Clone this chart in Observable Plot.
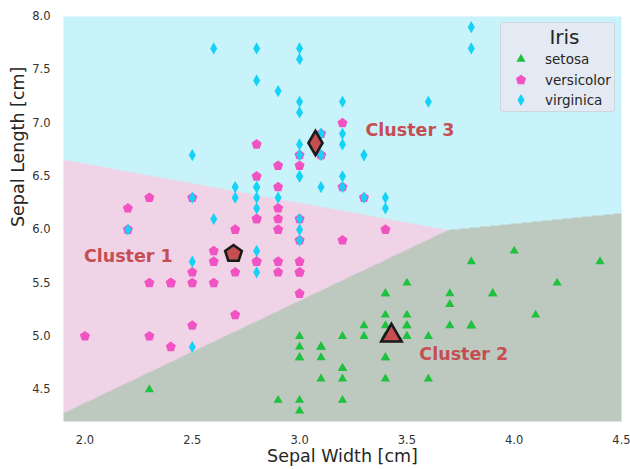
<!DOCTYPE html>
<html>
<head>
<meta charset="utf-8">
<script src="https://cdn.jsdelivr.net/npm/d3@7"></script>
<script src="https://cdn.jsdelivr.net/npm/@observablehq/plot@0.6"></script>
<style>
  html, body { margin: 0; padding: 0; background: #fff; }
  #wrap { position: relative; width: 630px; height: 469px; font-family: "DejaVu Sans", sans-serif; }
  #legend { position: absolute; left: 500px; top: 22px; width: 113px; height: 88px;
    background: #e3eaf3; border: 1px solid #d0d6de; border-radius: 3px; color: #262626; }
  #legend .title { position: absolute; left: 0; width: 100%; top: 2px; text-align: center; font-size: 20px; padding-left: 14px; box-sizing: border-box; }
  #legend .row { position: absolute; left: 10px; height: 18px; display: flex; align-items: center; font-size: 13.5px; }
  #legend .row svg { width: 20px; height: 18px; margin-right: 14px; }
</style>
</head>
<body>
<div id="wrap"></div>
<script>
// ---- data (Iris: sepal width / sepal length) ----
const species = ["setosa", "versicolor", "virginica"];
const speciesColors = ["#1fc13f", "#f153c3", "#14d3f6"];

const setosaWidth  = [3.5,3.0,3.2,3.1,3.6,3.9,3.4,3.4,2.9,3.1,3.7,3.4,3.0,3.0,4.0,4.4,3.9,3.5,3.8,3.8,3.4,3.7,3.6,3.3,3.4,3.0,3.4,3.5,3.4,3.2,3.1,3.4,4.1,4.2,3.1,3.2,3.5,3.1,3.0,3.4,3.5,2.3,3.2,3.5,3.8,3.0,3.8,3.2,3.7,3.3];
const setosaLength = [5.1,4.9,4.7,4.6,5.0,5.4,4.6,5.0,4.4,4.9,5.4,4.8,4.8,4.3,5.8,5.7,5.4,5.1,5.7,5.1,5.4,5.1,4.6,5.1,4.8,5.0,5.0,5.2,5.2,4.7,4.8,5.4,5.2,5.5,4.9,5.0,5.5,4.9,4.4,5.1,5.0,4.5,4.4,5.0,5.1,4.8,5.1,4.6,5.3,5.0];

const versicolorWidth  = [3.2,3.2,3.1,2.3,2.8,2.8,3.3,2.4,2.9,2.7,2.0,3.0,2.2,2.9,2.9,3.1,3.0,2.7,2.2,2.5,3.2,2.8,2.5,2.8,2.9,3.0,2.8,3.0,2.9,2.6,2.4,2.4,2.7,2.7,3.0,3.4,3.1,2.3,3.0,2.5,2.6,3.0,2.6,2.3,2.7,3.0,2.9,2.9,2.5,2.8];
const versicolorLength = [7.0,6.4,6.9,5.5,6.5,5.7,6.3,4.9,6.6,5.2,5.0,5.9,6.0,6.1,5.6,6.7,5.6,5.8,6.2,5.6,5.9,6.1,6.3,6.1,6.4,6.6,6.8,6.7,6.0,5.7,5.5,5.5,5.8,6.0,5.4,6.0,6.7,6.3,5.6,5.5,5.5,6.1,5.8,5.0,5.6,5.7,5.7,6.2,5.1,5.7];

const virginicaWidth  = [3.3,2.7,3.0,2.9,3.0,3.0,2.5,2.9,2.5,3.6,3.2,2.7,3.0,2.5,2.8,3.2,3.0,3.8,2.6,2.2,3.2,2.8,2.8,2.7,3.3,3.2,2.8,3.0,2.8,3.0,2.8,3.8,2.8,2.8,2.6,3.0,3.4,3.1,3.0,3.1,3.1,3.1,2.7,3.2,3.3,3.0,2.5,3.0,3.4,3.0];
const virginicaLength = [6.3,5.8,7.1,6.3,6.5,7.6,4.9,7.3,6.7,7.2,6.5,6.4,6.8,5.7,5.8,6.4,6.5,7.7,7.7,6.0,6.9,5.6,7.7,6.3,6.7,7.2,6.2,6.1,6.4,7.2,7.4,7.9,6.4,6.3,6.1,7.7,6.3,6.4,6.0,6.9,6.7,6.9,5.8,6.8,6.7,6.7,6.3,6.5,6.2,5.9];

// k-means centroids (sepal width, sepal length)
const clusterNames   = ["Cluster 1", "Cluster 2", "Cluster 3"];
const centroidWidth  = [2.692, 3.428, 3.074];
const centroidLength = [5.774, 5.006, 6.813];
const regionColors   = ["#f0d3e6", "#bdc9bf", "#c9f3fa"];
const labelWidth     = [1.995, 3.558, 3.307];
const labelLength    = [5.75, 4.83, 6.93];

const xTicks = [2.0, 2.5, 3.0, 3.5, 4.0, 4.5];
const yTicks = [4.5, 5.0, 5.5, 6.0, 6.5, 7.0, 7.5, 8.0];
const xDomain = [1.9, 4.5];
const yDomain = [4.2, 8.0];

// ---- symbols ----
const pentagon = {
  draw(context, size) {
    const r = Math.sqrt(size / (2.5 * Math.sin(2 * Math.PI / 5)));
    for (let k = 0; k < 5; ++k) {
      const a = -Math.PI / 2 + k * 2 * Math.PI / 5;
      const px = r * Math.cos(a), py = r * Math.sin(a);
      if (k === 0) context.moveTo(px, py); else context.lineTo(px, py);
    }
    context.closePath();
  }
};
const symbols = [d3.symbolTriangle, pentagon, d3.symbolDiamond];   // by species
const centroidSymbols = [pentagon, d3.symbolTriangle, d3.symbolDiamond]; // by cluster
const markerR = [3.4, 4.6, 3.7];
const centroidR = [7.6, 7.6, 7.4];

const groups = [
  d3.zip(setosaWidth, setosaLength),
  d3.zip(versicolorWidth, versicolorLength),
  d3.zip(virginicaWidth, virginicaLength)
];
const centroids = d3.range(3).map(i => ({w: centroidWidth[i], l: centroidLength[i], i}));
const labels = d3.range(3).map(i => ({w: labelWidth[i], l: labelLength[i], name: clusterNames[i]}));

function nearest(x, y) {
  let best = 0, bd = Infinity;
  for (let i = 0; i < 3; ++i) {
    const d = (x - centroidWidth[i]) ** 2 + (y - centroidLength[i]) ** 2;
    if (d < bd) { bd = d; best = i; }
  }
  return clusterNames[best];
}

const plot = Plot.plot({
  width: 630,
  height: 469,
  marginLeft: 63,
  marginRight: 9,
  marginTop: 16,
  marginBottom: 48,
  style: {fontFamily: "DejaVu Sans, sans-serif", background: "white"},
  x: {domain: xDomain},
  y: {domain: yDomain},
  color: {type: "ordinal", domain: clusterNames, range: regionColors},
  marks: [
    Plot.raster({x1: xDomain[0], x2: xDomain[1], y1: yDomain[0], y2: yDomain[1], fill: nearest, pixelSize: 1}),
    Plot.axisX({ticks: xTicks, tickSize: 0, tickPadding: 14, tickFormat: d3.format(".1f"), fontSize: 11.5, label: null, color: "#333"}),
    Plot.axisY({ticks: yTicks, tickSize: 0, tickPadding: 13, tickFormat: d3.format(".1f"), fontSize: 11.5, label: null, color: "#333"}),
    ...groups.map((g, i) => Plot.dot(g, {x: d => d[0], y: d => d[1], symbol: symbols[i], r: markerR[i], fill: speciesColors[i], stroke: "none"})),
    ...d3.range(3).map(i => Plot.dot(centroids.filter(c => c.i === i), {x: "w", y: "l", symbol: centroidSymbols[i], r: centroidR[i], fill: "#c44e52", stroke: "#1a1a1a", strokeWidth: 2.6})),
    Plot.text(labels, {x: "w", y: "l", text: "name", textAnchor: "start", fill: "#c44e52", fontWeight: "bold", fontSize: 17.5}),
    Plot.text(["Sepal Width [cm]"], {frameAnchor: "bottom", dy: 40, fontSize: 17.5, fill: "#262626"}),
    Plot.text(["Sepal Length [cm]"], {frameAnchor: "left", dx: -45, dy: 8, rotate: -90, fontSize: 17.5, fill: "#262626"})
  ]
});

const wrap = document.getElementById("wrap");
wrap.appendChild(plot);

// ---- legend ----
const legend = document.createElement("div");
legend.id = "legend";
legend.innerHTML = `<div class="title">Iris</div>`;
species.forEach((s, i) => {
  const row = document.createElement("div");
  row.className = "row";
  row.style.top = (27 + i * 20.5) + "px";
  const path = d3.symbol(symbols[i], Math.PI * markerR[i] * markerR[i])();
  row.innerHTML = `<svg viewBox="-10 -9 20 18"><path d="${path}" fill="${speciesColors[i]}"/></svg><span>${s}</span>`;
  legend.appendChild(row);
});
wrap.appendChild(legend);
</script>
</body>
</html>
